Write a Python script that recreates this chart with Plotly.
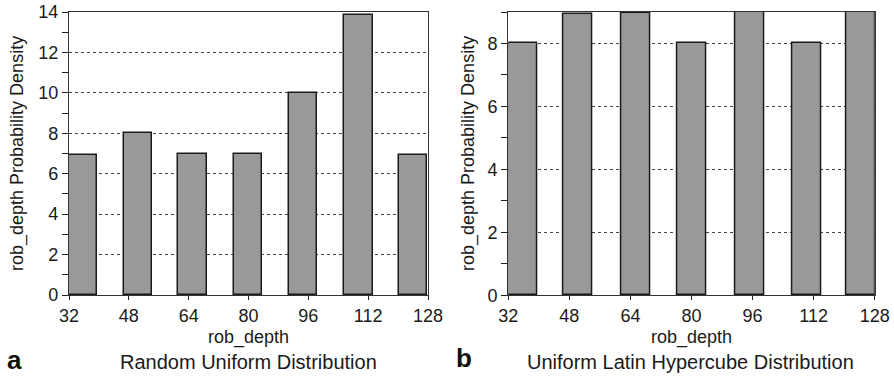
import plotly.graph_objects as go

# ---- data ----
bin_centers_a = [35.8, 50.4, 65.0, 79.8, 94.6, 109.4, 124.0]
density_a = [6.94, 8.0, 7.0, 7.0, 10.0, 13.84, 6.94]
bin_centers_b = [35.7, 50.2, 65.3, 80.2, 95.2, 110.2, 124.3]
density_b = [8.0, 8.93, 8.98, 8.0, 9.0, 8.0, 9.0]
x_ticks = [32, 48, 64, 80, 96, 112, 128]
bar_width = 7.6

W, H = 894, 377
FONT = "Liberation Sans, Arial, sans-serif"
TXT = "#1a1a1a"

fig = go.Figure()
fig.add_trace(go.Bar(x=bin_centers_a, y=density_a, width=bar_width,
                     marker=dict(color="#999999", line=dict(color="#1a1a1a", width=1.5)),
                     xaxis="x", yaxis="y", showlegend=False, hoverinfo="skip"))
fig.add_trace(go.Bar(x=bin_centers_b, y=density_b, width=bar_width,
                     marker=dict(color="#999999", line=dict(color="#1a1a1a", width=1.5)),
                     xaxis="x2", yaxis="y2", showlegend=False, hoverinfo="skip"))

def px_x(a, b):
    return [a / W, b / W]

def px_y(top, bottom):
    return [(H - bottom) / H, (H - top) / H]

xcommon = dict(range=[32, 128], tickvals=x_ticks, ticks="outside", ticklen=4,
               tickcolor="#222", showline=True, linecolor="#333", linewidth=1.3,
               mirror=True, showgrid=False, zeroline=False, automargin=False,
               tickfont=dict(family=FONT, size=18, color=TXT))
ycommon = dict(ticks="outside", ticklen=6, tickcolor="#222", showline=True,
               linecolor="#333", linewidth=1.3, mirror=True, automargin=False,
               showgrid=True, gridcolor="#444", griddash="dot", gridwidth=1,
               zeroline=False, dtick=2,
               minor=dict(ticks="outside", dtick=1, ticklen=6, tickcolor="#222", showgrid=False),
               tickfont=dict(family=FONT, size=18, color=TXT))

def ann(text, xp, yp, size, angle=0, bold=False, color=TXT):
    return dict(text=f"<b>{text}</b>" if bold else text, x=xp / W, y=(H - yp) / H,
                xref="paper", yref="paper", showarrow=False, textangle=angle,
                xanchor="center", yanchor="middle",
                font=dict(family=FONT, size=size, color=color))

fig.update_layout(
    width=W, height=H, margin=dict(l=0, r=0, t=0, b=0),
    paper_bgcolor="white", plot_bgcolor="white", bargap=0,
    xaxis=dict(domain=px_x(69, 428), anchor="y", **xcommon),
    yaxis=dict(domain=px_y(12, 295), anchor="x", range=[0, 14], **ycommon),
    xaxis2=dict(domain=px_x(508.3, 874.7), anchor="y2", **xcommon),
    yaxis2=dict(domain=px_y(12, 295.3), anchor="x2", range=[0, 9], **ycommon),
    annotations=[
        ann("rob_depth", 248, 337, 18),
        ann("rob_depth", 691, 337, 18),
        ann("rob_depth Probability Density", 18, 154, 18, angle=-90),
        ann("rob_depth Probability Density", 469, 154, 18, angle=-90),
        ann("a", 14, 360, 26, bold=True, color="#111"),
        ann("Random Uniform Distribution", 248, 362, 20),
        ann("b", 464, 358, 26, bold=True, color="#111"),
        ann("Uniform Latin Hypercube Distribution", 690, 362, 20),
    ],
)

fig.write_html("out.html", config={"displayModeBar": False},
               post_script="document.body.style.margin='0';document.body.style.overflow='hidden';")
